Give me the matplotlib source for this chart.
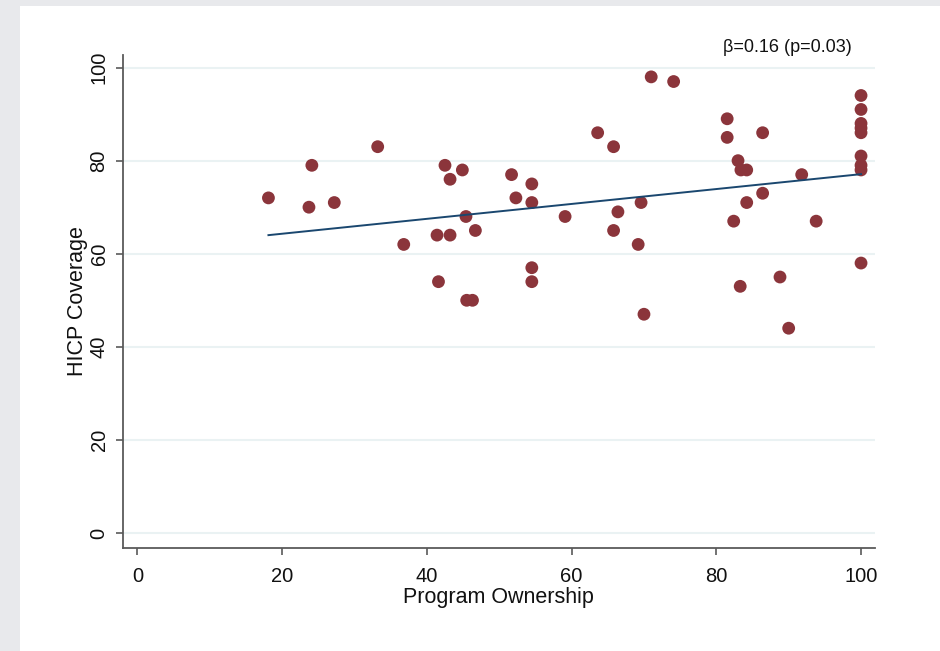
import matplotlib
matplotlib.use("Agg")
import matplotlib.pyplot as plt
from matplotlib.patches import Rectangle
import numpy as np

plt.rcParams['font.family'] = ['Liberation Sans', 'DejaVu Sans']

# Data
program_ownership = [18.1, 24.1, 23.7, 27.2, 33.2, 36.8, 41.4, 43.2, 41.6, 42.5,
                     43.2, 44.9, 45.4, 46.7, 45.5, 46.3, 51.7, 52.3, 54.5, 54.5,
                     54.5, 54.5, 59.1, 63.6, 65.8, 66.4, 65.8, 71.0, 74.1, 69.6,
                     69.2, 70.0, 81.5, 81.5, 83.0, 83.4, 84.2, 82.4, 84.2, 86.4,
                     86.4, 83.3, 88.8, 90.0, 91.8, 93.8,
                     100, 100, 100, 100, 100, 100, 100, 100, 100]
hicp_coverage = [72, 79, 70, 71, 83, 62, 64, 64, 54, 79,
                 76, 78, 68, 65, 50, 50, 77, 72, 75, 71,
                 57, 54, 68, 86, 83, 69, 65, 98, 97, 71,
                 62, 47, 89, 85, 80, 78, 78, 67, 71, 86,
                 73, 53, 55, 44, 77, 67,
                 94, 91, 88, 87, 86, 81, 79, 78, 58]
fit_beta = 0.16
fit_intercept = 61.1
x_ticks = [0, 20, 40, 60, 80, 100]
y_ticks = [0, 20, 40, 60, 80, 100]
annotation = "β=0.16 (p=0.03)"

x = np.array(program_ownership)
y = np.array(hicp_coverage)

fig = plt.figure(figsize=(9.4, 6.51), dpi=100, facecolor='white')
# grey page frame around the white card
fig.patches.append(Rectangle((0, 0), 20 / 940, 1, transform=fig.transFigure,
                             facecolor='#e8e9ec', edgecolor='none', zorder=-10))
fig.patches.append(Rectangle((0, 1 - 6 / 651), 1, 6 / 651, transform=fig.transFigure,
                             facecolor='#e8e9ec', edgecolor='none', zorder=-10))

ax = fig.add_axes([122.5 / 940, (651 - 548) / 651, (875 - 122.5) / 940, (548 - 55) / 651])
ax.set_facecolor('white')

for yt in y_ticks:
    ax.axhline(yt, color='#eaf2f3', lw=1.5, zorder=0)

ax.scatter(x, y, s=85, color='#8b353b', edgecolors='none', zorder=3)

xl = np.array([x.min(), x.max()])
ax.plot(xl, fit_intercept + fit_beta * xl, color='#1a476f', lw=1.4, zorder=4)

ax.set_xlim(-2.07, 101.93)
ax.set_ylim(-3.22, 102.7)
ax.set_xticks(x_ticks)
ax.set_yticks(y_ticks)
ax.set_xticklabels([str(t) for t in x_ticks], fontsize=14.5, color='#111111')
ax.set_yticklabels([str(t) for t in y_ticks], fontsize=14.5, color='#111111',
                   rotation=90, va='center')

for s in ['top', 'right']:
    ax.spines[s].set_visible(False)
for s in ['left', 'bottom']:
    ax.spines[s].set_color('#5a5a5a')
    ax.spines[s].set_linewidth(1.3)
ax.tick_params(axis='both', direction='out', length=5, width=1.2, color='#5a5a5a')
ax.tick_params(axis='x', pad=8.5)
ax.tick_params(axis='y', pad=5)

ax.set_xlabel('Program Ownership', fontsize=15.5, color='#111111', labelpad=1)
ax.set_ylabel('HICP Coverage', fontsize=15.5, color='#111111', labelpad=1)

fig.text(852 / 940, 1 - 47 / 651, annotation, fontsize=13, color='#111111',
         ha='right', va='center')

fig.savefig('out.png', dpi=100, facecolor=fig.get_facecolor())
